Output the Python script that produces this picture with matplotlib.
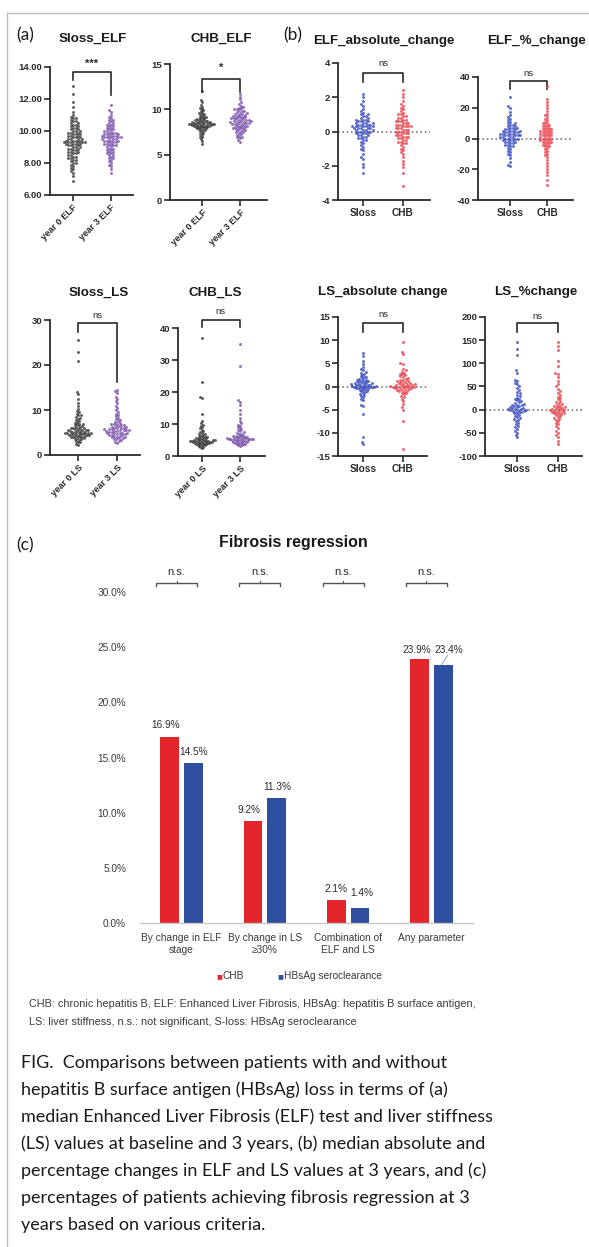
import numpy as np
import matplotlib
matplotlib.use("Agg")
import matplotlib.pyplot as plt
from matplotlib.lines import Line2D

plt.rcParams['font.family'] = ['Liberation Sans', 'DejaVu Sans']

# ---------------- data ----------------
sloss_elf_y0 = [12.8, 12.3, 11.8, 11.5, 11.2, 11.0, 10.9, 10.8, 10.8, 10.7, 10.6, 10.6, 10.5, 10.5, 10.4, 10.4, 10.3, 10.3,
                10.2, 10.2, 10.1, 10.1, 10.0, 10.0, 10.0, 9.9, 9.9, 9.9, 9.8, 9.8, 9.8, 9.7, 9.7, 9.7, 9.6, 9.6, 9.6, 9.5,
                9.5, 9.5, 9.5, 9.4, 9.4, 9.4, 9.4, 9.3, 9.3, 9.3, 9.3, 9.3, 9.3, 9.2, 9.2, 9.2, 9.2, 9.1, 9.1, 9.1, 9.0,
                9.0, 9.0, 8.9, 8.9, 8.9, 8.8, 8.8, 8.7, 8.7, 8.7, 8.6, 8.6, 8.5, 8.5, 8.4, 8.4, 8.3, 8.3, 8.2, 8.2, 8.1,
                8.0, 8.0, 7.9, 7.8, 7.7, 7.6, 7.5, 7.4, 7.2, 6.9]
sloss_elf_y3 = [11.6, 11.3, 11.2, 11.0, 10.9, 10.8, 10.7, 10.7, 10.6, 10.5, 10.5, 10.4, 10.4, 10.3, 10.3, 10.2, 10.2, 10.1,
                10.1, 10.0, 10.0, 10.0, 9.9, 9.9, 9.9, 9.8, 9.8, 9.8, 9.8, 9.7, 9.7, 9.7, 9.7, 9.6, 9.6, 9.6, 9.6, 9.6,
                9.5, 9.5, 9.5, 9.5, 9.4, 9.4, 9.4, 9.4, 9.3, 9.3, 9.3, 9.2, 9.2, 9.2, 9.1, 9.1, 9.1, 9.0, 9.0, 8.9, 8.9,
                8.8, 8.8, 8.7, 8.7, 8.6, 8.6, 8.5, 8.5, 8.4, 8.3, 8.3, 8.2, 8.1, 8.0, 7.9, 7.8, 7.6, 7.4]
chb_elf_y0 = [12.0, 11.0, 10.8, 10.5, 10.3, 10.1, 10.0, 9.9, 9.8, 9.7, 9.6, 9.5, 9.5, 9.4, 9.3, 9.2, 9.2, 9.1, 9.0, 9.0,
              8.9, 8.9, 8.8, 8.8, 8.8, 8.7, 8.7, 8.7, 8.6, 8.6, 8.6, 8.6, 8.5, 8.5, 8.5, 8.5, 8.5, 8.4, 8.4, 8.4, 8.4,
              8.4, 8.4, 8.3, 8.3, 8.3, 8.3, 8.3, 8.2, 8.2, 8.2, 8.2, 8.1, 8.1, 8.1, 8.0, 8.0, 8.0, 7.9, 7.9, 7.8, 7.8,
              7.7, 7.7, 7.6, 7.5, 7.4, 7.3, 7.2, 7.0, 6.9, 6.7, 6.5, 6.2]
chb_elf_y3 = [11.7, 11.4, 11.1, 10.8, 10.6, 10.4, 10.3, 10.2, 10.1, 10.0, 10.0, 9.9, 9.8, 9.8, 9.7, 9.6, 9.6, 9.5, 9.5,
              9.4, 9.4, 9.3, 9.3, 9.2, 9.2, 9.1, 9.1, 9.0, 9.0, 9.0, 8.9, 8.9, 8.8, 8.8, 8.8, 8.7, 8.7, 8.7, 8.6, 8.6,
              8.6, 8.5, 8.5, 8.5, 8.4, 8.4, 8.4, 8.3, 8.3, 8.2, 8.2, 8.1, 8.1, 8.0, 8.0, 7.9, 7.9, 7.8, 7.8, 7.7, 7.7,
              7.6, 7.5, 7.5, 7.4, 7.3, 7.2, 7.1, 7.0, 6.9, 6.8, 6.6, 6.4]
elf_abs_sloss = [2.2, 2.0, 1.8, 1.6, 1.5, 1.3, 1.2, 1.1, 1.0, 1.0, 0.9, 0.9, 0.8, 0.8, 0.7, 0.7, 0.7, 0.6, 0.6, 0.6, 0.5,
                 0.5, 0.5, 0.5, 0.4, 0.4, 0.4, 0.4, 0.3, 0.3, 0.3, 0.3, 0.3, 0.2, 0.2, 0.2, 0.2, 0.2, 0.1, 0.1, 0.1, 0.1,
                 0.0, 0.0, 0.0, 0.0, -0.1, -0.1, -0.1, -0.2, -0.2, -0.2, -0.3, -0.3, -0.4, -0.4, -0.5, -0.5, -0.6, -0.7,
                 -0.8, -0.9, -1.0, -1.1, -1.3, -1.5, -1.6, -1.9, -2.1, -2.4]
elf_abs_chb = [2.4, 2.2, 2.0, 1.8, 1.6, 1.5, 1.4, 1.3, 1.2, 1.1, 1.0, 1.0, 0.9, 0.9, 0.8, 0.8, 0.7, 0.7, 0.6, 0.6, 0.6,
               0.5, 0.5, 0.5, 0.4, 0.4, 0.4, 0.3, 0.3, 0.3, 0.3, 0.2, 0.2, 0.2, 0.1, 0.1, 0.1, 0.0, 0.0, 0.0, -0.1, -0.1,
               -0.1, -0.2, -0.2, -0.2, -0.3, -0.3, -0.3, -0.4, -0.4, -0.5, -0.5, -0.6, -0.6, -0.7, -0.7, -0.8, -0.9,
               -1.0, -1.1, -1.2, -1.3, -1.5, -1.7, -1.9, -2.1, -2.4, -3.2]
elf_pct_sloss = [27, 21, 20, 17, 15, 14, 13, 12, 11, 10, 10, 9, 9, 8, 8, 7, 7, 7, 6, 6, 6, 5, 5, 5, 5, 4, 4, 4, 4, 3, 3,
                 3, 3, 2, 2, 2, 2, 2, 1, 1, 1, 1, 0, 0, 0, 0, -1, -1, -1, -2, -2, -2, -3, -3, -4, -4, -5, -5, -6, -7,
                 -8, -9, -10, -11, -13, -15, -17, -18]
elf_pct_chb = [34, 26, 24, 22, 20, 18, 16, 15, 14, 13, 12, 11, 10, 10, 9, 9, 8, 8, 7, 7, 6, 6, 6, 5, 5, 5, 4, 4, 4, 3,
               3, 3, 2, 2, 2, 1, 1, 1, 0, 0, 0, -1, -1, -1, -2, -2, -2, -3, -3, -4, -4, -5, -5, -6, -7, -8, -9, -10,
               -11, -12, -14, -16, -18, -20, -22, -24, -27, -30]
sloss_ls_y0 = [25.5, 23.0, 21.0, 14.0, 13.5, 12.5, 11.5, 10.8, 10.2, 9.8, 9.5, 9.2, 9.0, 8.8, 8.5, 8.2, 8.0, 7.8, 7.6,
               7.4, 7.2, 7.0, 7.0, 6.8, 6.6, 6.5, 6.4, 6.2, 6.1, 6.0, 6.0, 5.9, 5.8, 5.7, 5.6, 5.6, 5.5, 5.5, 5.4, 5.3,
               5.3, 5.2, 5.2, 5.1, 5.0, 5.0, 5.0, 4.9, 4.9, 4.8, 4.8, 4.7, 4.7, 4.6, 4.6, 4.5, 4.5, 4.4, 4.4, 4.3, 4.2,
               4.2, 4.1, 4.0, 4.0, 3.9, 3.8, 3.7, 3.6, 3.5, 3.4, 3.2, 3.0, 2.8, 2.5, 2.2]
sloss_ls_y3 = [14.5, 14.2, 13.8, 13.0, 12.5, 12.0, 11.5, 11.0, 10.5, 10.0, 9.6, 9.2, 8.9, 8.6, 8.3, 8.0, 7.8, 7.6, 7.4,
               7.2, 7.0, 6.9, 6.8, 6.7, 6.6, 6.5, 6.4, 6.3, 6.2, 6.1, 6.0, 6.0, 5.9, 5.8, 5.8, 5.7, 5.6, 5.6, 5.5, 5.5,
               5.4, 5.3, 5.3, 5.2, 5.1, 5.0, 5.0, 4.9, 4.8, 4.8, 4.7, 4.6, 4.5, 4.5, 4.4, 4.3, 4.2, 4.1, 4.0, 3.9, 3.8,
               3.7, 3.6, 3.5, 3.3, 3.1, 2.9, 2.6]
chb_ls_y0 = [37.0, 23.0, 18.5, 18.2, 13.0, 11.0, 10.3, 9.8, 9.4, 9.0, 8.6, 8.2, 7.9, 7.6, 7.3, 7.0, 6.8, 6.6, 6.4, 6.2,
             6.0, 5.9, 5.8, 5.7, 5.6, 5.5, 5.4, 5.3, 5.2, 5.1, 5.0, 5.0, 4.9, 4.9, 4.8, 4.8, 4.7, 4.7, 4.6, 4.6, 4.5,
             4.5, 4.4, 4.4, 4.3, 4.3, 4.2, 4.2, 4.1, 4.0, 4.0, 3.9, 3.8, 3.7, 3.6, 3.5, 3.4, 3.3, 3.1, 2.9, 2.7, 2.5]
chb_ls_y3 = [35.0, 28.0, 17.5, 17.0, 16.0, 14.5, 13.0, 12.0, 11.0, 10.2, 9.8, 9.4, 9.0, 8.6, 8.3, 8.0, 7.7, 7.4, 7.2,
             7.0, 6.8, 6.6, 6.4, 6.3, 6.2, 6.1, 6.0, 5.9, 5.8, 5.7, 5.6, 5.6, 5.5, 5.5, 5.4, 5.4, 5.3, 5.3, 5.2, 5.2,
             5.1, 5.1, 5.0, 5.0, 4.9, 4.8, 4.7, 4.6, 4.5, 4.4, 4.3, 4.2, 4.1, 4.0, 3.9, 3.8, 3.7, 3.5, 3.3, 3.1]
ls_abs_sloss = [7.3, 6.5, 5.5, 4.8, 4.2, 3.8, 3.5, 3.2, 3.0, 2.8, 2.5, 2.3, 2.1, 2.0, 1.8, 1.6, 1.5, 1.4, 1.3, 1.2,
                1.1, 1.0, 0.9, 0.9, 0.8, 0.7, 0.7, 0.6, 0.5, 0.5, 0.4, 0.4, 0.3, 0.3, 0.2, 0.2, 0.1, 0.1, 0.0, 0.0,
                0.0, -0.1, -0.1, -0.2, -0.2, -0.3, -0.3, -0.4, -0.5, -0.6, -0.7, -0.8, -0.9, -1.0, -1.2, -1.4, -1.6,
                -1.8, -2.0, -2.3, -2.6, -3.0, -4.1, -4.2, -6.0, -11.0, -12.0, -12.5]
ls_abs_chb = [9.6, 7.5, 7.0, 5.0, 4.8, 3.8, 3.5, 3.2, 3.0, 2.8, 2.6, 2.4, 2.2, 2.0, 1.8, 1.6, 1.5, 1.4, 1.2, 1.1, 1.0,
              0.9, 0.8, 0.7, 0.6, 0.5, 0.5, 0.4, 0.3, 0.3, 0.2, 0.1, 0.1, 0.0, 0.0, -0.1, -0.2, -0.2, -0.3, -0.4,
              -0.4, -0.5, -0.6, -0.7, -0.8, -0.9, -1.0, -1.1, -1.3, -1.5, -1.7, -2.0, -2.3, -2.7, -3.2, -3.8, -4.5,
              -5.0, -7.5, -13.5]
ls_pct_sloss = [145, 130, 118, 85, 80, 65, 62, 58, 55, 50, 46, 42, 38, 35, 32, 29, 26, 24, 22, 20, 18, 16, 14, 12, 11,
                10, 9, 8, 7, 6, 5, 4, 3, 2, 2, 1, 0, 0, -1, -2, -3, -4, -5, -6, -8, -10, -12, -14, -16, -18, -20, -22,
                -25, -28, -31, -35, -38, -42, -46, -50, -55, -60]
ls_pct_chb = [145, 138, 128, 105, 95, 80, 78, 70, 62, 56, 50, 45, 40, 36, 32, 28, 25, 22, 19, 16, 14, 12, 10, 8, 7, 6,
              5, 4, 3, 2, 1, 0, 0, -1, -2, -3, -4, -5, -6, -7, -8, -9, -10, -12, -14, -16, -18, -20, -22, -25, -28,
              -32, -36, -40, -45, -50, -55, -60, -68, -75]

year_elf_labels = ["year 0 ELF", "year 3 ELF"]
year_ls_labels = ["year 0 LS", "year 3 LS"]
group_labels = ["Sloss", "CHB"]

reg_categories = ["By change in ELF\nstage", "By change in LS\n\u226530%", "Combination of\nELF and LS", "Any parameter"]
reg_chb = [16.9, 9.2, 2.1, 23.9]
reg_hbsag = [14.5, 11.3, 1.4, 23.4]
reg_yticks = [0, 5, 10, 15, 20, 25, 30]

# ---------------- figure ----------------
W, H = 589, 1247
fig = plt.figure(figsize=(W / 100, H / 100), dpi=100)
fig.patch.set_facecolor("white")


def axpx(x0, ytop, x1, ybot):
    return fig.add_axes([x0 / W, 1 - ybot / H, (x1 - x0) / W, (ybot - ytop) / H])


def ftext(x, y, s, **kw):
    return fig.text(x / W, 1 - y / H, s, **kw)


# border lines
fig.add_artist(Line2D([7 / W, 1], [1 - 13 / H, 1 - 13 / H], color="#bdbdbd", lw=1.0))
fig.add_artist(Line2D([7 / W, 7 / W], [1 - 13 / H, 0], color="#bdbdbd", lw=1.0))

BLACK = "#3b3b3b"
PURPLE = "#7b52ab"
BLUE = "#3a4cc0"
RED = "#e8434c"


def swarm_offsets(ypx, d):
    order = np.argsort(ypx)
    px_list, py_list = [], []
    xs = np.zeros(len(ypx))
    for i in order:
        y = ypx[i]
        near = [(px, py) for px, py in zip(px_list, py_list) if abs(py - y) < d]
        cands = [0.0]
        for px, py in near:
            dx = np.sqrt(max(d * d - (py - y) ** 2, 0.0))
            cands += [px + dx, px - dx]
        cands.sort(key=lambda c: (abs(c), c))
        chosen = 0.0
        for c in cands:
            if all((c - px) ** 2 + (y - py) ** 2 >= d * d - 1e-6 for px, py in near):
                chosen = c
                break
        xs[i] = chosen
        px_list.append(chosen)
        py_list.append(y)
    return xs


def swarm_panel(box, groups, colors, xlim, ylim, yticks, yfmt, xlabels, rotate,
                bracket, sig, zero_line=False, dpx=2.7, maxw=13.0):
    ax = axpx(*box)
    ax.set_xlim(*xlim)
    ax.set_ylim(*ylim)
    for s in ["top", "right"]:
        ax.spines[s].set_visible(False)
    for s in ["left", "bottom"]:
        ax.spines[s].set_linewidth(1.3)
        ax.spines[s].set_color("#2a2a2a")
    ax.set_yticks(yticks)
    ax.set_yticklabels([yfmt.format(t) for t in yticks], fontsize=6.8, fontweight="bold", color="#2a2a2a")
    ax.set_xticks([0, 1])
    if rotate:
        ax.set_xticklabels(xlabels, rotation=45, ha="right", rotation_mode="anchor",
                           fontsize=6.6, fontweight="bold", color="#2a2a2a")
    else:
        ax.set_xticklabels(xlabels, fontsize=7.3, fontweight="bold", color="#2a2a2a")
    ax.tick_params(axis="both", length=4, width=1.2, color="#2a2a2a", pad=1.5)
    if zero_line:
        ax.axhline(0, color="#7a7a7a", lw=1.2, ls=(0, (1, 1.6)), zorder=1)
    for gi, (vals, col) in enumerate(zip(groups, colors)):
        vals = np.asarray(vals, dtype=float)
        pts = ax.transData.transform(np.column_stack([np.full(len(vals), gi), vals]))
        offs = swarm_offsets(pts[:, 1], dpx)
        m = np.abs(offs).max()
        if m > maxw:
            offs = offs * (maxw / m)
        xpx = pts[:, 0] + offs
        xdata = ax.transData.inverted().transform(np.column_stack([xpx, pts[:, 1]]))[:, 0]
        ax.scatter(xdata, vals, s=4.6, color=col, alpha=0.8, linewidths=0, zorder=3, clip_on=False)
    top, lleg, rleg, sig_y = bracket
    ax.plot([0, 0, 1, 1], [lleg, top, top, rleg], color="#2a2a2a", lw=1.2, clip_on=False)
    ax.text(0.5, sig_y, sig, ha="center", va="center", fontsize=6.8 if sig == "ns" else 8,
            fontweight="normal" if sig == "ns" else "bold", color="#2a2a2a", clip_on=False)
    return ax


# panel (a) top
swarm_panel((50, 67, 133, 195), [sloss_elf_y0, sloss_elf_y3], [BLACK, PURPLE], (-0.6, 1.58), (6, 14),
            [6, 8, 10, 12, 14], "{:.2f}", year_elf_labels, True, (13.7, 13.2, 12.25, 14.2), "***")
swarm_panel((170, 64, 267, 200), [chb_elf_y0, chb_elf_y3], [BLACK, PURPLE], (-0.84, 1.71), (0, 15),
            [0, 5, 10, 15], "{:d}", year_elf_labels, True, (13.35, 11.9, 11.9, 14.6), "*")
# panel (b) top
swarm_panel((338, 63, 430, 200), [elf_abs_sloss, elf_abs_chb], [BLUE, RED], (-0.625, 1.675), (-4, 4),
            [-4, -2, 0, 2, 4], "{:d}", group_labels, False, (3.4, 2.9, 2.9, 4.0), "ns", zero_line=True)
swarm_panel((478, 77, 573, 200), [elf_pct_sloss, elf_pct_chb], [BLUE, RED], (-0.86, 1.70), (-40, 40),
            [-40, -20, 0, 20, 40], "{:d}", group_labels, False, (37.4, 32, 32, 42.6), "ns", zero_line=True)
# panel (a) bottom
swarm_panel((50, 320, 140, 455), [sloss_ls_y0, sloss_ls_y3], [BLACK, PURPLE], (-0.72, 1.59), (0, 30),
            [0, 10, 20, 30], "{:d}", year_ls_labels, True, (29.3, 27.3, 16.2, 30.9), "ns")
swarm_panel((178, 328, 265, 456), [chb_ls_y0, chb_ls_y3], [BLACK, PURPLE], (-0.63, 1.66), (0, 40),
            [0, 10, 20, 30, 40], "{:d}", year_ls_labels, True, (42.5, 40.3, 40.3, 45.2), "ns")
# panel (b) bottom
swarm_panel((338, 317, 427, 456), [ls_abs_sloss, ls_abs_chb], [BLUE, RED], (-0.625, 1.6), (-15, 15),
            [-15, -10, -5, 0, 5, 10, 15], "{:d}", group_labels, False, (13.7, 11.8, 11.8, 15.6), "ns",
            zero_line=True)
swarm_panel((485, 317, 582, 456), [ls_pct_sloss, ls_pct_chb], [BLUE, RED], (-0.8, 1.6), (-100, 200),
            [-100, -50, 0, 50, 100, 150, 200], "{:d}", group_labels, False, (187, 168, 168, 201), "ns",
            zero_line=True, maxw=14.0)

# titles & panel letters
tkw = dict(ha="center", va="center", fontsize=9.6, fontweight="bold", color="#1a1a1a")
ftext(93, 39, "Sloss_ELF", **tkw)
ftext(221, 39, "CHB_ELF", **tkw)
ftext(384, 41, "ELF_absolute_change", **tkw)
ftext(537, 41, "ELF_%_change", **tkw)
ftext(99, 293, "Sloss_LS", **tkw)
ftext(215, 293, "CHB_LS", **tkw)
ftext(383, 292, "LS_absolute change", **tkw)
ftext(536, 292, "LS_%change", **tkw)
lkw = dict(ha="center", va="center", fontsize=12.5, color="#1a1a1a", family=["Lato", "DejaVu Sans"])
ftext(25, 35, "(a)", **lkw)
ftext(293, 35, "(b)", **lkw)
ftext(25, 545, "(c)", **lkw)

# ---------------- panel (c) ----------------
RED_C = "#e3262b"
BLUE_C = "#2e4f9f"
axc = axpx(140, 592, 473, 923)
xc = np.arange(len(reg_categories))
bw = 0.225
off = 0.143
axc.bar(xc - off, reg_chb, width=bw, color=RED_C, zorder=2)
axc.bar(xc + off, reg_hbsag, width=bw, color=BLUE_C, zorder=2)
axc.set_xlim(-0.5, len(reg_categories) - 0.5)
axc.set_ylim(0, 30)
axc.set_yticks(reg_yticks)
axc.set_yticklabels(["{:.1f}%".format(v) for v in reg_yticks], fontsize=7.3, color="#3a3a3a")
axc.tick_params(axis="y", length=0, pad=10)
axc.set_xticks(xc)
axc.set_xticklabels(reg_categories, fontsize=7.3, color="#3a3a3a", linespacing=1.3)
axc.tick_params(axis="x", length=0, pad=7)
for s in ["top", "right", "left"]:
    axc.spines[s].set_visible(False)
axc.spines["bottom"].set_color("#c8c8c8")
axc.spines["bottom"].set_linewidth(1.0)

vkw = dict(ha="center", va="bottom", fontsize=7.3, color="#2a2a2a")
for i, (a, b) in enumerate(zip(reg_chb, reg_hbsag)):
    if i == 3:
        axc.text(i - off - 0.03, 24.3, "{:.1f}%".format(a), **vkw)
        axc.text(i + off + 0.07, 24.3, "{:.1f}%".format(b), **vkw)
        axc.plot([i + off - 0.02, i + off + 0.05], [b + 0.05, b + 0.85], color="#9aa7c8", lw=0.8)
    elif i == 2:
        axc.text(i - off, a + 0.5, "{:.1f}%".format(a), **vkw)
        axc.text(i + off + 0.02, b + 0.9, "{:.1f}%".format(b), **vkw)
    else:
        axc.text(i - off - 0.05, a + 0.55, "{:.1f}%".format(a), **vkw)
        axc.text(i + off, b + 0.55, "{:.1f}%".format(b), **vkw)

# n.s. brackets
for i in xc:
    cx = i - 0.06
    hw = 0.245
    axc.plot([cx - hw, cx - hw, cx + hw, cx + hw], [30.5, 30.8, 30.8, 30.5], color="#555555", lw=1.0, clip_on=False)
    axc.plot([cx, cx], [30.8, 31.0], color="#555555", lw=0.8, clip_on=False)
    axc.text(cx, 31.4, "n.s.", ha="center", va="bottom", fontsize=8, color="#2a2a2a", clip_on=False)

ftext(293, 543, "Fibrosis regression", ha="center", va="center", fontsize=11.5, fontweight="bold", color="#1a1a1a")

# legend
ftext(216, 976, "\u25a0", ha="left", va="center", fontsize=7, color=RED_C)
ftext(222.5, 976, "CHB", ha="left", va="center", fontsize=7.3, color="#3a3a3a")
ftext(277, 976, "\u25a0", ha="left", va="center", fontsize=7, color=BLUE_C)
ftext(283.5, 976, "HBsAg seroclearance", ha="left", va="center", fontsize=7.3, color="#3a3a3a")

# footnote
ftext(29, 1004, "CHB: chronic hepatitis B, ELF: Enhanced Liver Fibrosis, HBsAg: hepatitis B surface antigen,",
      ha="left", va="center", fontsize=7.8, color="#3a3a3a")
ftext(29, 1022, "LS: liver stiffness, n.s.: not significant, S-loss: HBsAg seroclearance",
      ha="left", va="center", fontsize=7.8, color="#3a3a3a")

# caption
caption_lines = [
    "FIG.  Comparisons between patients with and without",
    "hepatitis B surface antigen (HBsAg) loss in terms of (a)",
    "median Enhanced Liver Fibrosis (ELF) test and liver stiffness",
    "(LS) values at baseline and 3 years, (b) median absolute and",
    "percentage changes in ELF and LS values at 3 years, and (c)",
    "percentages of patients achieving fibrosis regression at 3",
    "years based on various criteria.",
]
for k, line in enumerate(caption_lines):
    ftext(21, 1063 + 27 * k, line, ha="left", va="center", fontsize=13.0, color="#1a1a1a",
          family=["Lato", "DejaVu Sans"])

fig.savefig("out.png", dpi=100)
